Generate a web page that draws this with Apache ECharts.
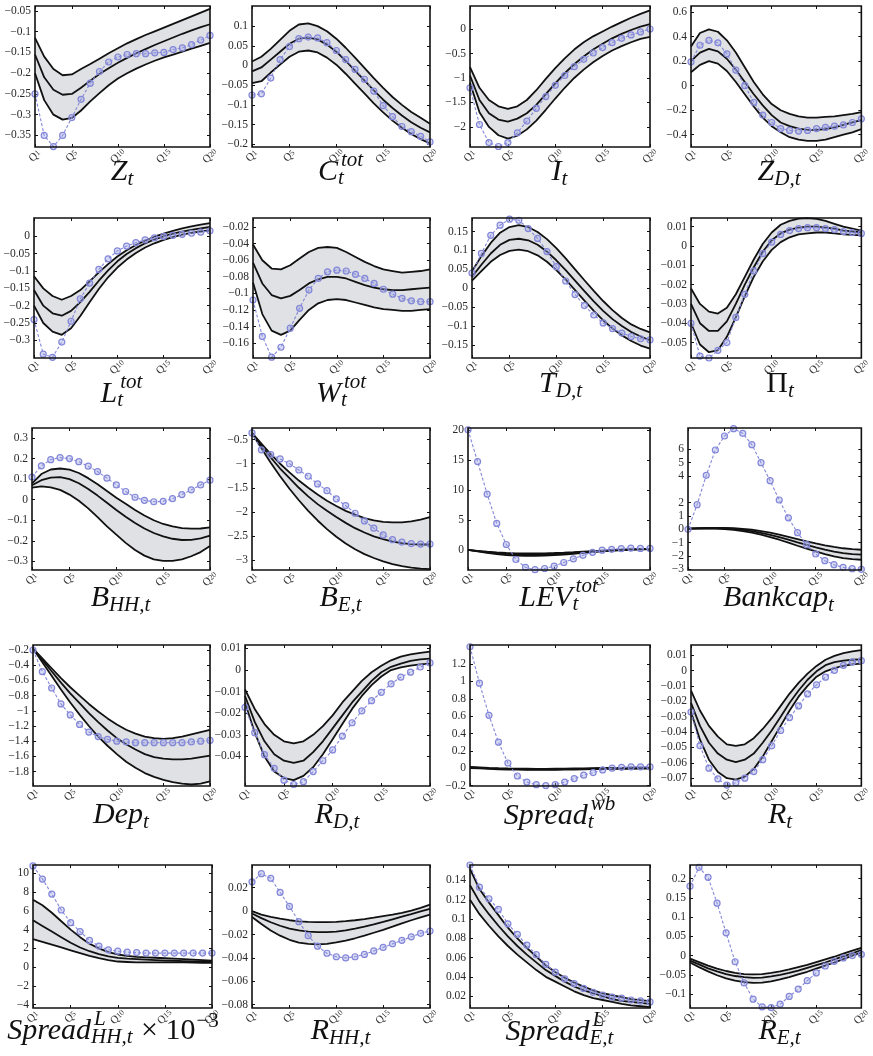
<!DOCTYPE html>
<html>
<head>
<meta charset="utf-8">
<script src="https://cdn.jsdelivr.net/npm/echarts@6/dist/echarts.min.js"></script>
<style>
  html, body { margin: 0; padding: 0; background: #fff; }
  #chart { width: 873px; height: 1056px; }
</style>
</head>
<body>
<div id="chart"></div>
<script>
// Horizon: 20 quarters
const quarters = ['Q1','Q2','Q3','Q4','Q5','Q6','Q7','Q8','Q9','Q10','Q11','Q12','Q13','Q14','Q15','Q16','Q17','Q18','Q19','Q20'];
const shownQuarters = [0, 4, 9, 14, 19];

// ---- Impulse responses: lower band, median, upper band, alternative (dotted) ----
// Z_t
const Z_lo  = [-0.2,-0.265,-0.3,-0.312,-0.308,-0.29,-0.268,-0.248,-0.229,-0.213,-0.2,-0.189,-0.179,-0.17,-0.162,-0.155,-0.148,-0.141,-0.134,-0.127];
const Z_med = [-0.155,-0.21,-0.24,-0.252,-0.25,-0.235,-0.218,-0.202,-0.188,-0.175,-0.163,-0.152,-0.142,-0.132,-0.123,-0.114,-0.105,-0.097,-0.089,-0.082];
const Z_hi  = [-0.115,-0.16,-0.19,-0.205,-0.203,-0.19,-0.178,-0.165,-0.152,-0.14,-0.128,-0.118,-0.108,-0.099,-0.09,-0.081,-0.072,-0.063,-0.054,-0.045];
const Z_alt = [-0.25,-0.35,-0.377,-0.35,-0.307,-0.263,-0.224,-0.196,-0.173,-0.161,-0.155,-0.153,-0.153,-0.151,-0.15,-0.143,-0.139,-0.131,-0.12,-0.109];
const Z_ticks = [-0.35,-0.3,-0.25,-0.2,-0.15,-0.1,-0.05];

// C_t^tot
const C_lo  = [-0.045,-0.04,-0.018,0.002,0.022,0.035,0.038,0.033,0.02,0.002,-0.021,-0.046,-0.071,-0.096,-0.119,-0.14,-0.158,-0.174,-0.187,-0.198];
const C_med = [-0.015,-0.005,0.015,0.035,0.055,0.068,0.071,0.066,0.053,0.035,0.012,-0.013,-0.038,-0.063,-0.087,-0.108,-0.127,-0.144,-0.158,-0.17];
const C_hi  = [0.01,0.022,0.042,0.065,0.088,0.104,0.107,0.1,0.087,0.068,0.045,0.02,-0.006,-0.032,-0.057,-0.08,-0.1,-0.118,-0.133,-0.148];
const C_alt = [-0.075,-0.072,-0.032,0.015,0.048,0.068,0.072,0.07,0.058,0.038,0.015,-0.01,-0.035,-0.065,-0.102,-0.13,-0.155,-0.168,-0.18,-0.194];
const C_ticks = [-0.2,-0.15,-0.1,-0.05,0,0.05,0.1];

// I_t
const I_lo  = [-1.1,-1.7,-2.0,-2.17,-2.24,-2.18,-2.05,-1.87,-1.65,-1.42,-1.2,-1.0,-0.83,-0.68,-0.55,-0.44,-0.35,-0.27,-0.2,-0.16];
const I_med = [-0.95,-1.45,-1.72,-1.85,-1.89,-1.83,-1.72,-1.55,-1.33,-1.11,-0.9,-0.72,-0.56,-0.42,-0.3,-0.19,-0.1,-0.02,0.05,0.1];
const I_hi  = [-0.78,-1.2,-1.45,-1.58,-1.63,-1.58,-1.45,-1.25,-1.02,-0.8,-0.6,-0.42,-0.27,-0.15,-0.05,0.05,0.14,0.23,0.31,0.38];
const I_alt = [-1.2,-1.95,-2.32,-2.4,-2.32,-2.12,-1.88,-1.62,-1.38,-1.15,-0.95,-0.77,-0.62,-0.49,-0.38,-0.28,-0.19,-0.12,-0.06,0.0];
const I_ticks = [-2,-1.5,-1,-0.5,0];

// Z_{D,t}
const ZD_lo  = [0.11,0.17,0.2,0.18,0.12,0.03,-0.07,-0.17,-0.26,-0.33,-0.38,-0.42,-0.44,-0.45,-0.45,-0.44,-0.42,-0.4,-0.38,-0.355];
const ZD_med = [0.2,0.27,0.3,0.28,0.22,0.13,0.03,-0.07,-0.16,-0.24,-0.3,-0.33,-0.35,-0.36,-0.36,-0.355,-0.34,-0.32,-0.3,-0.28];
const ZD_hi  = [0.32,0.43,0.46,0.44,0.37,0.27,0.15,0.03,-0.07,-0.15,-0.2,-0.23,-0.25,-0.26,-0.26,-0.255,-0.25,-0.24,-0.23,-0.215];
const ZD_alt = [0.195,0.33,0.37,0.35,0.26,0.127,0.0,-0.135,-0.24,-0.3,-0.35,-0.365,-0.37,-0.365,-0.35,-0.34,-0.33,-0.32,-0.3,-0.27];
const ZD_ticks = [-0.4,-0.2,0,0.2,0.4,0.6];

// L_t^tot
const L_lo  = [-0.2,-0.25,-0.275,-0.284,-0.265,-0.23,-0.19,-0.152,-0.118,-0.09,-0.067,-0.048,-0.032,-0.02,-0.01,-0.002,0.005,0.01,0.014,0.017];
const L_med = [-0.155,-0.2,-0.222,-0.229,-0.215,-0.19,-0.16,-0.128,-0.098,-0.072,-0.051,-0.034,-0.02,-0.009,0.0,0.008,0.014,0.019,0.023,0.027];
const L_hi  = [-0.115,-0.15,-0.172,-0.183,-0.172,-0.155,-0.13,-0.104,-0.08,-0.058,-0.04,-0.025,-0.012,-0.001,0.008,0.016,0.023,0.029,0.034,0.038];
const L_alt = [-0.24,-0.34,-0.349,-0.305,-0.245,-0.18,-0.135,-0.095,-0.065,-0.042,-0.028,-0.018,-0.01,-0.004,0.0,0.003,0.006,0.009,0.012,0.016];
const L_ticks = [-0.3,-0.25,-0.2,-0.15,-0.1,-0.05,0];

// W_t^tot
const W_lo  = [-0.087,-0.125,-0.145,-0.15,-0.145,-0.132,-0.12,-0.112,-0.108,-0.107,-0.108,-0.111,-0.114,-0.117,-0.119,-0.12,-0.121,-0.121,-0.12,-0.119];
const W_med = [-0.063,-0.088,-0.102,-0.106,-0.103,-0.096,-0.088,-0.083,-0.08,-0.08,-0.082,-0.086,-0.09,-0.093,-0.095,-0.096,-0.096,-0.095,-0.094,-0.093];
const W_hi  = [-0.041,-0.06,-0.07,-0.071,-0.066,-0.058,-0.05,-0.045,-0.044,-0.045,-0.05,-0.056,-0.062,-0.067,-0.071,-0.073,-0.075,-0.074,-0.073,-0.071];
const W_alt = [-0.108,-0.152,-0.177,-0.165,-0.142,-0.118,-0.096,-0.082,-0.074,-0.072,-0.073,-0.077,-0.082,-0.088,-0.095,-0.101,-0.106,-0.109,-0.11,-0.11];
const W_ticks = [-0.16,-0.14,-0.12,-0.1,-0.08,-0.06,-0.04,-0.02];

// T_{D,t}
const TD_lo  = [0.02,0.045,0.07,0.088,0.099,0.102,0.098,0.087,0.07,0.048,0.023,-0.005,-0.033,-0.06,-0.085,-0.107,-0.125,-0.14,-0.152,-0.16];
const TD_med = [0.03,0.062,0.092,0.115,0.128,0.131,0.127,0.115,0.097,0.074,0.048,0.02,-0.008,-0.035,-0.06,-0.082,-0.1,-0.116,-0.128,-0.138];
const TD_hi  = [0.045,0.085,0.12,0.147,0.162,0.167,0.162,0.149,0.13,0.106,0.079,0.05,0.021,-0.007,-0.034,-0.058,-0.079,-0.096,-0.108,-0.117];
const TD_alt = [0.04,0.092,0.14,0.167,0.183,0.18,0.158,0.132,0.097,0.057,0.019,-0.017,-0.046,-0.071,-0.092,-0.107,-0.119,-0.128,-0.134,-0.137];
const TD_ticks = [-0.15,-0.1,-0.05,0,0.05,0.1,0.15];

// Pi_t
const PI_lo  = [-0.04,-0.051,-0.055,-0.054,-0.047,-0.037,-0.026,-0.016,-0.008,-0.002,0.002,0.0045,0.006,0.0065,0.007,0.007,0.0065,0.006,0.0058,0.0055];
const PI_med = [-0.03,-0.04,-0.044,-0.044,-0.039,-0.03,-0.02,-0.011,-0.003,0.003,0.0065,0.0085,0.0095,0.01,0.01,0.0095,0.009,0.008,0.0075,0.007];
const PI_hi  = [-0.022,-0.03,-0.034,-0.035,-0.032,-0.025,-0.016,-0.007,0.001,0.007,0.011,0.013,0.0142,0.0144,0.014,0.013,0.0115,0.01,0.009,0.008];
const PI_alt = [-0.04,-0.057,-0.058,-0.054,-0.05,-0.037,-0.025,-0.013,-0.004,0.002,0.006,0.008,0.009,0.0095,0.0095,0.009,0.0085,0.0075,0.007,0.0065];
const PI_ticks = [-0.05,-0.04,-0.03,-0.02,-0.01,0,0.01];

// B_{HH,t}
const BHH_lo  = [0.059,0.065,0.06,0.048,0.025,-0.005,-0.042,-0.085,-0.13,-0.17,-0.21,-0.245,-0.272,-0.29,-0.298,-0.298,-0.29,-0.275,-0.255,-0.225];
const BHH_med = [0.07,0.095,0.108,0.11,0.1,0.08,0.052,0.02,-0.015,-0.05,-0.083,-0.113,-0.14,-0.162,-0.178,-0.19,-0.196,-0.195,-0.188,-0.175];
const BHH_hi  = [0.08,0.125,0.147,0.152,0.146,0.13,0.105,0.075,0.042,0.01,-0.02,-0.05,-0.077,-0.1,-0.118,-0.13,-0.138,-0.141,-0.14,-0.135];
const BHH_alt = [0.11,0.165,0.195,0.205,0.2,0.185,0.163,0.137,0.105,0.072,0.04,0.012,-0.003,-0.01,-0.008,0.005,0.025,0.048,0.072,0.095];
const BHH_ticks = [-0.3,-0.2,-0.1,0,0.1,0.2,0.3];

// B_{E,t}
const BE_lo  = [-0.36,-0.68,-0.98,-1.26,-1.52,-1.76,-1.98,-2.18,-2.36,-2.52,-2.66,-2.78,-2.88,-2.96,-3.03,-3.09,-3.13,-3.16,-3.18,-3.19];
const BE_med = [-0.36,-0.62,-0.87,-1.1,-1.3,-1.5,-1.68,-1.84,-1.98,-2.11,-2.23,-2.34,-2.43,-2.51,-2.57,-2.62,-2.65,-2.67,-2.68,-2.68];
const BE_hi  = [-0.36,-0.58,-0.8,-1.0,-1.18,-1.35,-1.5,-1.64,-1.77,-1.88,-1.98,-2.06,-2.13,-2.18,-2.21,-2.22,-2.22,-2.2,-2.16,-2.11];
const BE_alt = [-0.36,-0.71,-0.81,-0.9,-1.0,-1.13,-1.26,-1.42,-1.56,-1.73,-1.87,-2.03,-2.19,-2.34,-2.48,-2.58,-2.63,-2.66,-2.67,-2.67];
const BE_ticks = [-3,-2.5,-2,-1.5,-1,-0.5];

// LEV_t^tot
const LEV_lo  = [0,-0.25,-0.5,-0.7,-0.85,-0.95,-1.0,-1.0,-0.96,-0.88,-0.77,-0.64,-0.5,-0.37,-0.25,-0.14,-0.05,0.03,0.09,0.13];
const LEV_med = [0,-0.2,-0.4,-0.56,-0.68,-0.76,-0.8,-0.8,-0.76,-0.69,-0.6,-0.5,-0.39,-0.28,-0.18,-0.09,-0.01,0.06,0.11,0.15];
const LEV_hi  = [0,-0.15,-0.3,-0.42,-0.52,-0.58,-0.6,-0.6,-0.57,-0.52,-0.45,-0.37,-0.28,-0.2,-0.12,-0.05,0.02,0.08,0.13,0.17];
const LEV_alt = [20,14.7,9.3,4.4,0.9,-1.6,-2.9,-3.3,-3.1,-2.7,-2.1,-1.5,-0.9,-0.4,-0.05,0.1,0.2,0.3,0.25,0.25];
const LEV_ticks = [0,5,10,15,20];

// Bankcap_t
const BK_lo  = [0.05,0.06,0.06,0.05,0.02,-0.04,-0.13,-0.25,-0.4,-0.58,-0.78,-1.0,-1.23,-1.45,-1.66,-1.86,-2.03,-2.16,-2.24,-2.28];
const BK_med = [0.05,0.07,0.08,0.08,0.07,0.03,-0.04,-0.13,-0.26,-0.41,-0.58,-0.77,-0.97,-1.16,-1.35,-1.52,-1.67,-1.78,-1.86,-1.9];
const BK_hi  = [0.05,0.08,0.1,0.1,0.1,0.08,0.04,-0.03,-0.13,-0.25,-0.4,-0.56,-0.73,-0.9,-1.06,-1.2,-1.32,-1.42,-1.49,-1.53];
const BK_alt = [0,1.85,4.05,5.95,7.0,7.55,7.2,6.35,5.0,3.65,2.2,0.86,-0.25,-1.15,-1.85,-2.35,-2.65,-2.85,-2.95,-3.0];
const BK_ticks = [-3,-2,-1,0,1,2,4,5,6];

// Dep_t
const DEP_lo  = [-0.18,-0.36,-0.54,-0.72,-0.89,-1.05,-1.2,-1.34,-1.46,-1.57,-1.67,-1.75,-1.82,-1.87,-1.91,-1.94,-1.96,-1.97,-1.96,-1.93];
const DEP_med = [-0.18,-0.33,-0.48,-0.63,-0.77,-0.9,-1.03,-1.15,-1.26,-1.36,-1.44,-1.51,-1.57,-1.61,-1.63,-1.64,-1.64,-1.63,-1.61,-1.59];
const DEP_hi  = [-0.18,-0.31,-0.44,-0.57,-0.69,-0.8,-0.91,-1.01,-1.1,-1.18,-1.25,-1.3,-1.34,-1.36,-1.37,-1.36,-1.34,-1.31,-1.28,-1.25];
const DEP_alt = [-0.2,-0.485,-0.7,-0.91,-1.055,-1.18,-1.28,-1.34,-1.375,-1.4,-1.41,-1.42,-1.42,-1.42,-1.42,-1.42,-1.42,-1.41,-1.4,-1.39];
const DEP_ticks = [-1.8,-1.6,-1.4,-1.2,-1,-0.8,-0.6,-0.4,-0.2];

// R_{D,t}
const RD_lo  = [-0.015,-0.029,-0.04,-0.047,-0.05,-0.051,-0.049,-0.045,-0.039,-0.032,-0.025,-0.018,-0.012,-0.007,-0.003,0,0.0012,0.002,0.0026,0.003];
const RD_med = [-0.012,-0.024,-0.033,-0.039,-0.042,-0.043,-0.042,-0.038,-0.033,-0.027,-0.021,-0.015,-0.01,-0.005,-0.001,0.0015,0.003,0.0042,0.0049,0.0053];
const RD_hi  = [-0.009,-0.018,-0.025,-0.03,-0.033,-0.034,-0.033,-0.03,-0.026,-0.021,-0.015,-0.01,-0.005,-0.001,0.002,0.0045,0.0062,0.0073,0.008,0.0085];
const RD_alt = [-0.0173,-0.029,-0.0392,-0.0455,-0.051,-0.053,-0.0517,-0.047,-0.042,-0.037,-0.0306,-0.0244,-0.0189,-0.0142,-0.0103,-0.0064,-0.0033,-0.001,0.0014,0.0033];
const RD_ticks = [-0.04,-0.03,-0.02,-0.01,0,0.01];

// Spread_t^wb
const SWB_lo  = [0.002,-0.003,-0.008,-0.012,-0.015,-0.017,-0.018,-0.019,-0.019,-0.018,-0.017,-0.015,-0.013,-0.011,-0.009,-0.008,-0.007,-0.006,-0.005,-0.005];
const SWB_med = [0.008,0.003,-0.002,-0.006,-0.009,-0.011,-0.012,-0.013,-0.013,-0.012,-0.011,-0.009,-0.007,-0.005,-0.003,-0.002,-0.001,0,0.001,0.001];
const SWB_hi  = [0.014,0.009,0.004,0.0,-0.003,-0.005,-0.006,-0.007,-0.007,-0.006,-0.005,-0.003,-0.001,0.001,0.003,0.004,0.005,0.006,0.007,0.007];
const SWB_alt = [1.4,0.98,0.61,0.3,0.06,-0.09,-0.16,-0.19,-0.2,-0.19,-0.16,-0.12,-0.08,-0.05,-0.02,0.0,0.01,0.015,0.015,0.015];
const SWB_ticks = [-0.2,0,0.2,0.4,0.6,0.8,1,1.2];

// R_t
const R_lo  = [-0.027,-0.045,-0.058,-0.066,-0.07,-0.071,-0.069,-0.064,-0.056,-0.046,-0.036,-0.026,-0.017,-0.01,-0.004,-0.0005,0.0015,0.003,0.004,0.0045];
const R_med = [-0.021,-0.036,-0.047,-0.054,-0.058,-0.0595,-0.058,-0.054,-0.047,-0.039,-0.03,-0.021,-0.013,-0.006,-0.0005,0.0035,0.0055,0.0065,0.007,0.0072];
const R_hi  = [-0.013,-0.026,-0.036,-0.043,-0.048,-0.049,-0.048,-0.044,-0.038,-0.031,-0.023,-0.015,-0.008,-0.002,0.003,0.007,0.0095,0.0113,0.0125,0.0133];
const R_alt = [-0.027,-0.049,-0.0635,-0.0705,-0.0745,-0.073,-0.07,-0.0657,-0.058,-0.049,-0.039,-0.0306,-0.023,-0.0152,-0.0093,-0.0043,0.0001,0.0034,0.0056,0.0064];
const R_ticks = [-0.07,-0.06,-0.05,-0.04,-0.03,-0.02,-0.01,0,0.01];

// Spread^L_{HH,t} (x 10^-3)
const SHH_lo  = [3.0,2.7,2.4,2.1,1.8,1.5,1.2,0.95,0.75,0.6,0.55,0.5,0.5,0.5,0.5,0.5,0.5,0.48,0.47,0.45];
const SHH_med = [5.0,4.4,3.8,3.2,2.6,2.1,1.7,1.4,1.15,1.0,0.9,0.85,0.8,0.75,0.7,0.68,0.65,0.62,0.6,0.6];
const SHH_hi  = [7.2,6.6,5.8,4.9,4.0,3.2,2.5,2.0,1.6,1.35,1.2,1.1,1.05,1.0,0.95,0.9,0.85,0.8,0.75,0.7];
const SHH_alt = [10.8,9.4,7.8,6.1,4.75,3.8,2.85,2.25,1.85,1.7,1.6,1.55,1.5,1.5,1.5,1.5,1.5,1.5,1.5,1.5];
const SHH_ticks = [-4,-2,0,2,4,6,8,10];

// R_{HH,t}
const RHH_lo  = [-0.005,-0.011,-0.0165,-0.021,-0.0245,-0.027,-0.028,-0.0285,-0.028,-0.0268,-0.0252,-0.0232,-0.021,-0.0185,-0.016,-0.0133,-0.0105,-0.0078,-0.0053,-0.003];
const RHH_med = [-0.002,-0.006,-0.0095,-0.0125,-0.015,-0.0165,-0.0175,-0.018,-0.018,-0.0175,-0.0165,-0.015,-0.0133,-0.0113,-0.0092,-0.007,-0.0048,-0.0026,-0.0003,0.002];
const RHH_hi  = [0.0,-0.003,-0.005,-0.0065,-0.0078,-0.0087,-0.0092,-0.0095,-0.0095,-0.0092,-0.0086,-0.0078,-0.0068,-0.0056,-0.0043,-0.003,-0.0015,0.0005,0.0028,0.0055];
const RHH_alt = [0.025,0.032,0.028,0.016,0.004,-0.009,-0.021,-0.03,-0.036,-0.039,-0.04,-0.039,-0.037,-0.034,-0.031,-0.028,-0.025,-0.022,-0.019,-0.017];
const RHH_ticks = [-0.08,-0.06,-0.04,-0.02,0,0.02];

// Spread^L_{E,t}
const SE_lo  = [0.12,0.105,0.093,0.082,0.072,0.063,0.055,0.047,0.04,0.035,0.03,0.025,0.021,0.018,0.016,0.014,0.012,0.0105,0.0095,0.0085];
const SE_med = [0.135,0.118,0.105,0.093,0.082,0.072,0.063,0.055,0.047,0.041,0.035,0.03,0.026,0.023,0.02,0.017,0.015,0.014,0.013,0.012];
const SE_hi  = [0.152,0.131,0.117,0.104,0.091,0.08,0.07,0.061,0.052,0.045,0.039,0.034,0.03,0.026,0.023,0.021,0.019,0.017,0.0158,0.0148];
const SE_alt = [0.156,0.133,0.121,0.11,0.095,0.084,0.073,0.063,0.053,0.045,0.038,0.033,0.028,0.024,0.021,0.019,0.018,0.016,0.015,0.014];
const SE_ticks = [0.02,0.04,0.06,0.08,0.1,0.12,0.14];

// R_{E,t}
const RE_lo  = [-0.018,-0.03,-0.041,-0.051,-0.059,-0.065,-0.069,-0.071,-0.07,-0.067,-0.062,-0.056,-0.049,-0.042,-0.034,-0.026,-0.018,-0.009,0.0,0.008];
const RE_med = [-0.013,-0.023,-0.033,-0.041,-0.048,-0.053,-0.056,-0.058,-0.057,-0.054,-0.05,-0.045,-0.039,-0.032,-0.025,-0.018,-0.01,-0.002,0.006,0.014];
const RE_hi  = [-0.008,-0.017,-0.026,-0.034,-0.04,-0.045,-0.048,-0.049,-0.048,-0.045,-0.041,-0.036,-0.03,-0.024,-0.017,-0.01,-0.003,0.005,0.013,0.02];
const RE_alt = [0.18,0.229,0.203,0.136,0.059,-0.016,-0.071,-0.113,-0.133,-0.135,-0.126,-0.106,-0.087,-0.065,-0.045,-0.027,-0.015,-0.006,0.0,0.003];
const RE_ticks = [-0.1,-0.05,0,0.05,0.1,0.15,0.2];

// ---- Panel definitions: data, axis range, label pieces ----
// Label pieces: [text, kind, extra]; kinds: b = italic base, u = upright base,
// s = subscript, ss = subscript with superscript (extra), pu = upright superscript
const panels = [
  { lo: Z_lo,   med: Z_med,   hi: Z_hi,   alt: Z_alt,   min: -0.378, max: -0.038, ticks: Z_ticks,   label: [['Z','b'],['t','s']] },
  { lo: C_lo,   med: C_med,   hi: C_hi,   alt: C_alt,   min: -0.207, max: 0.151,  ticks: C_ticks,   label: [['C','b'],['t','ss','tot']] },
  { lo: I_lo,   med: I_med,   hi: I_hi,   alt: I_alt,   min: -2.41,  max: 0.47,   ticks: I_ticks,   label: [['I','b'],['t','s']] },
  { lo: ZD_lo,  med: ZD_med,  hi: ZD_hi,  alt: ZD_alt,  min: -0.5,   max: 0.65,   ticks: ZD_ticks,  label: [['Z','b'],['D,t','s']] },
  { lo: L_lo,   med: L_med,   hi: L_hi,   alt: L_alt,   min: -0.351, max: 0.053,  ticks: L_ticks,   label: [['L','b'],['t','ss','tot']] },
  { lo: W_lo,   med: W_med,   hi: W_hi,   alt: W_alt,   min: -0.178, max: -0.009, ticks: W_ticks,   label: [['W','b'],['t','ss','tot']] },
  { lo: TD_lo,  med: TD_med,  hi: TD_hi,  alt: TD_alt,  min: -0.185, max: 0.186,  ticks: TD_ticks,  label: [['T','b'],['D,t','s']] },
  { lo: PI_lo,  med: PI_med,  hi: PI_hi,  alt: PI_alt,  min: -0.058, max: 0.0145, ticks: PI_ticks,  label: [['\u03A0','u'],['t','s']] },
  { lo: BHH_lo, med: BHH_med, hi: BHH_hi, alt: BHH_alt, min: -0.342, max: 0.349,  ticks: BHH_ticks, label: [['B','b'],['HH,t','s']] },
  { lo: BE_lo,  med: BE_med,  hi: BE_hi,  alt: BE_alt,  min: -3.21,  max: -0.257, ticks: BE_ticks,  label: [['B','b'],['E,t','s']] },
  { lo: LEV_lo, med: LEV_med, hi: LEV_hi, alt: LEV_alt, min: -3.35,  max: 20.3,   ticks: LEV_ticks, label: [['LEV','b'],['t','ss','tot']] },
  { lo: BK_lo,  med: BK_med,  hi: BK_hi,  alt: BK_alt,  min: -3.05,  max: 7.6,    ticks: BK_ticks,  label: [['Bankcap','b'],['t','s']] },
  { lo: DEP_lo, med: DEP_med, hi: DEP_hi, alt: DEP_alt, min: -1.99,  max: -0.134, ticks: DEP_ticks, label: [['Dep','b'],['t','s']] },
  { lo: RD_lo,  med: RD_med,  hi: RD_hi,  alt: RD_alt,  min: -0.0537,max: 0.0116, ticks: RD_ticks,  label: [['R','b'],['D,t','s']] },
  { lo: SWB_lo, med: SWB_med, hi: SWB_hi, alt: SWB_alt, min: -0.205, max: 1.42,   ticks: SWB_ticks, label: [['Spread','b'],['t','ss','wb']] },
  { lo: R_lo,   med: R_med,   hi: R_hi,   alt: R_alt,   min: -0.0751,max: 0.0166, ticks: R_ticks,   label: [['R','b'],['t','s']] },
  { lo: SHH_lo, med: SHH_med, hi: SHH_hi, alt: SHH_alt, min: -4.36,  max: 10.9,   ticks: SHH_ticks, label: [['Spread','b'],['HH,t','ss','L'],[' \u00D7 10','u'],['\u22123','pu']] },
  { lo: RHH_lo, med: RHH_med, hi: RHH_hi, alt: RHH_alt, min: -0.0828,max: 0.0394, ticks: RHH_ticks, label: [['R','b'],['HH,t','s']] },
  { lo: SE_lo,  med: SE_med,  hi: SE_hi,  alt: SE_alt,  min: 0.0077, max: 0.156,  ticks: SE_ticks,  label: [['Spread','b'],['E,t','ss','L']] },
  { lo: RE_lo,  med: RE_med,  hi: RE_hi,  alt: RE_alt,  min: -0.136, max: 0.235,  ticks: RE_ticks,  label: [['R','b'],['E,t','s']] }
];

// ---- Layout: plot boxes [left, top, width, height], label baselines and horizontal nudges ----
const boxes = [
  [35, 6, 175, 141], [252, 6, 178, 141], [470, 6, 180, 141], [691, 6, 177, 141],
  [34, 218, 176, 140], [253, 218, 177, 140], [472, 218, 178, 140], [691, 218, 179, 140],
  [32, 428, 178, 142], [252, 428, 178, 142], [468, 428, 182, 142], [688, 428, 182, 142],
  [33, 645, 177, 141], [245, 645, 185, 141], [470, 645, 180, 141], [691, 645, 179, 141],
  [33, 865, 179, 143], [252, 865, 178, 143], [470, 865, 180, 143], [690, 865, 180, 143]
];
const baselines = [181, 181, 181, 181, 403, 403, 393, 393, 607, 607, 607, 607, 824, 824, 825, 824, 1040, 1040, 1041, 1040];
const labelNudge = [0,0,0,0, 0,0,0,0, 0,0,0,0, 0,0,0,0, -10,0,0,0];

const SERIF = '"Liberation Serif", "DejaVu Serif", serif';
const INK = '#111';
const BAND = '#dfe1e4';
const ALT = '#8387d8';

const fmt = v => String(v).replace('-', '\u2212');
const showQ = idx => shownQuarters.indexOf(idx) >= 0;

const grid = [], xAxis = [], yAxis = [], series = [];

panels.forEach((p, i) => {
  const [l, t, w, h] = boxes[i];
  grid.push({ left: l, top: t, width: w, height: h, show: true, borderColor: INK, borderWidth: 1.6, backgroundColor: 'transparent', z: 5 });

  const xBase = {
    gridIndex: i, type: 'category', data: quarters, boundaryGap: false,
    axisLine: { show: false, onZero: false }, splitLine: { show: false },
    axisTick: { show: true, inside: true, length: 3, interval: showQ, lineStyle: { color: INK, width: 1 } }
  };
  xAxis.push(Object.assign({}, xBase, {
    position: 'bottom',
    axisLabel: {
      interval: showQ, rotate: 45, align: 'center', verticalAlign: 'middle', margin: 9,
      formatter: v => '{q|Q}{n|' + v.slice(1) + '}',
      rich: {
        q: { fontFamily: SERIF, fontSize: 11, color: '#333' },
        n: { fontFamily: SERIF, fontSize: 8, color: '#333' }
      }
    }
  }));
  xAxis.push(Object.assign({}, xBase, { position: 'top', axisLabel: { show: false } }));

  const yBase = {
    gridIndex: i, type: 'value', min: p.min, max: p.max,
    axisLine: { show: false, onZero: false }, splitLine: { show: false },
    axisTick: { show: true, inside: true, length: 3, customValues: p.ticks, lineStyle: { color: INK, width: 1 } }
  };
  yAxis.push(Object.assign({}, yBase, {
    position: 'left',
    axisLabel: { customValues: p.ticks, formatter: fmt, fontFamily: SERIF, fontSize: 11.5, color: '#2a2a2a', margin: 4 }
  }));
  yAxis.push(Object.assign({}, yBase, { position: 'right', axisLabel: { show: false } }));

  const xi = 2 * i, yi = 2 * i;
  const common = { type: 'line', xAxisIndex: xi, yAxisIndex: yi, symbol: 'none', silent: true, animation: false };

  // shaded band between lower and upper responses
  series.push(Object.assign({}, common, {
    data: p.lo, stack: 'band' + i, stackStrategy: 'all',
    lineStyle: { opacity: 0 }, z: 1
  }));
  series.push(Object.assign({}, common, {
    data: p.hi.map((v, k) => v - p.lo[k]), stack: 'band' + i, stackStrategy: 'all',
    lineStyle: { opacity: 0 }, areaStyle: { color: BAND, opacity: 1 }, z: 1
  }));
  // lower / median / upper lines
  [p.lo, p.med, p.hi].forEach(d => {
    series.push(Object.assign({}, common, {
      data: d, lineStyle: { color: INK, width: 1.8 }, z: 3
    }));
  });
  // alternative response: dashed with circle markers at every quarter
  series.push(Object.assign({}, common, {
    data: p.alt, symbol: 'circle', symbolSize: 6, showAllSymbol: true, clip: false,
    lineStyle: { color: ALT, width: 1.1, type: [3, 2] },
    itemStyle: { color: 'rgba(150,154,225,0.35)', borderColor: ALT, borderWidth: 1.2 },
    z: 4
  }));
});

// ---- Math-style labels under each panel ----
const measureCtx = document.createElement('canvas').getContext('2d');
function textWidth(str, font) { measureCtx.font = font; return measureCtx.measureText(str).width; }

const BASE_SIZE = 30, SUB_SIZE = 21;
const fItalic = s => 'italic ' + s + 'px ' + SERIF;
const fUpright = s => s + 'px ' + SERIF;
const graphics = [];

function addText(str, x, baseline, font, size) {
  graphics.push({
    type: 'text', x: x, y: baseline - 0.3 * size, silent: true,
    style: { text: str, font: font, fill: INK, align: 'left', verticalAlign: 'middle' }
  });
}

panels.forEach((p, i) => {
  const [l, , w] = boxes[i];
  const cx = l + w / 2 + labelNudge[i];
  const by = baselines[i];
  const pieces = p.label.map(([txt, kind, extra]) => {
    if (kind === 'b') return { txt, kind, w: textWidth(txt, fItalic(BASE_SIZE)) };
    if (kind === 'u') return { txt, kind, w: textWidth(txt, fUpright(BASE_SIZE)) };
    if (kind === 's') return { txt, kind, w: textWidth(txt, fItalic(SUB_SIZE)) + 1 };
    if (kind === 'pu') return { txt, kind, w: textWidth(txt, fUpright(SUB_SIZE)) };
    const ws = textWidth(txt, fItalic(SUB_SIZE)), wp = textWidth(extra, fItalic(SUB_SIZE));
    return { txt, kind, extra, w: Math.max(ws, wp + 3) + 1 };
  });
  const total = pieces.reduce((a, b) => a + b.w, 0);
  let x = cx - total / 2;
  pieces.forEach(pc => {
    if (pc.kind === 'b') addText(pc.txt, x, by, fItalic(BASE_SIZE), BASE_SIZE);
    else if (pc.kind === 'u') addText(pc.txt, x, by, fUpright(BASE_SIZE), BASE_SIZE);
    else if (pc.kind === 's') addText(pc.txt, x, by + 5, fItalic(SUB_SIZE), SUB_SIZE);
    else if (pc.kind === 'pu') addText(pc.txt, x + 1, by - 12, fUpright(SUB_SIZE), SUB_SIZE);
    else {
      addText(pc.txt, x, by + 4, fItalic(SUB_SIZE), SUB_SIZE);
      addText(pc.extra, x + 3, by - 14, fItalic(SUB_SIZE), SUB_SIZE);
    }
    x += pc.w;
  });
});

const chart = echarts.init(document.getElementById('chart'), null, { renderer: 'canvas' });
chart.setOption({
  backgroundColor: '#fff',
  animation: false,
  grid, xAxis, yAxis, series,
  graphic: graphics
});
</script>
</body>
</html>
